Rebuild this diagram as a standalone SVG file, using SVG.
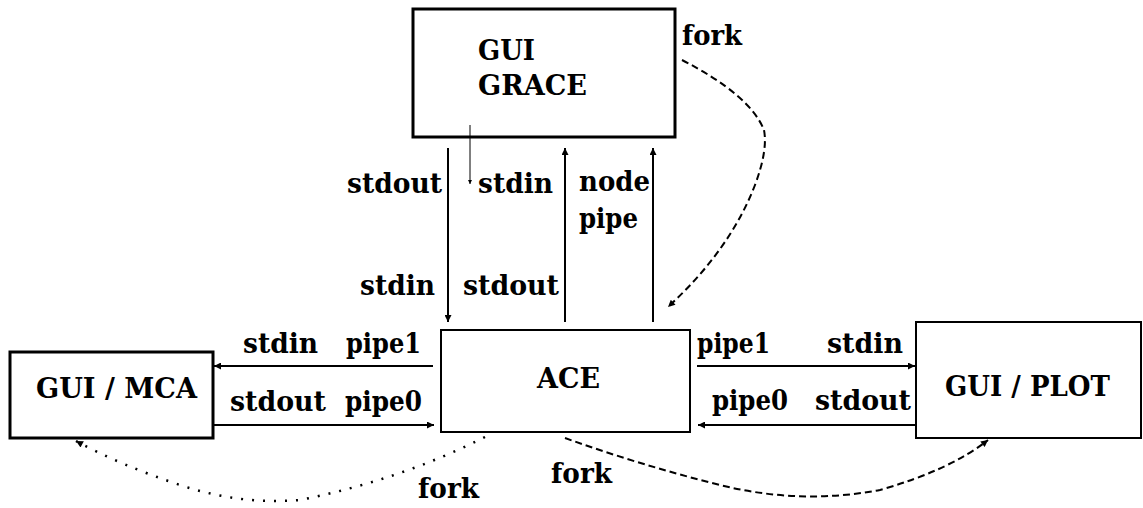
<svg xmlns="http://www.w3.org/2000/svg" width="1143" height="508" viewBox="0 0 1143 508">
  <style>
    .box { fill: #fff; stroke: #000; }
    .lbl { font-family: "DejaVu Serif", "Liberation Serif", serif; font-weight: bold; font-size: 27px; fill: #000; }
    .pipe { fill: none; stroke: #000; stroke-width: 2; }
    .thin { fill: none; stroke: #000; stroke-width: 1; }
    .dash { fill: none; stroke: #000; stroke-width: 2; stroke-dasharray: 7 4; }
    .dot { fill: none; stroke: #000; stroke-width: 2.5; stroke-dasharray: 2 9; stroke-linecap: butt; }
  </style>
  <defs>
    <marker id="ah" viewBox="0 0 10 10" refX="10" refY="5" markerWidth="9" markerHeight="7" markerUnits="userSpaceOnUse" orient="auto">
      <path d="M0,0 L10,5 L0,10 z" fill="#000"/>
    </marker>
    <marker id="ahs" viewBox="0 0 10 10" refX="10" refY="5" markerWidth="5" markerHeight="4" markerUnits="userSpaceOnUse" orient="auto">
      <path d="M0,0 L10,5 L0,10 z" fill="#000"/>
    </marker>
  </defs>
  <rect width="1143" height="508" fill="#fff"/>

  <!-- process boxes -->
  <g id="grace">
    <rect class="box" x="413" y="9" width="262" height="128" stroke-width="3"/>
    <text class="lbl" x="478" y="60" textLength="57" lengthAdjust="spacingAndGlyphs">GUI</text>
    <text class="lbl" x="478" y="95" textLength="109" lengthAdjust="spacingAndGlyphs">GRACE</text>
  </g>
  <g id="ace">
    <rect class="box" x="441" y="330" width="249" height="102" stroke-width="2"/>
    <text class="lbl" x="537" y="388" textLength="63" lengthAdjust="spacingAndGlyphs">ACE</text>
  </g>
  <g id="mca">
    <rect class="box" x="10" y="352" width="203" height="86" stroke-width="3"/>
    <text class="lbl" x="36" y="398" textLength="161" lengthAdjust="spacingAndGlyphs">GUI / MCA</text>
  </g>
  <g id="plot">
    <rect class="box" x="916" y="322" width="225" height="116" stroke-width="2"/>
    <text class="lbl" x="945" y="396" textLength="165" lengthAdjust="spacingAndGlyphs">GUI / PLOT</text>
  </g>

  <!-- connectors -->
  <g id="connectors">
    <line class="thin" x1="470" y1="125" x2="470" y2="184" marker-end="url(#ahs)"/>
    <line class="pipe" x1="448" y1="148" x2="448" y2="322" marker-end="url(#ah)"/>
    <line class="pipe" x1="565" y1="322" x2="565" y2="148" marker-end="url(#ah)"/>
    <line class="pipe" x1="653" y1="322" x2="653" y2="148" marker-end="url(#ah)"/>

    <line class="pipe" x1="433" y1="366" x2="214" y2="366" marker-end="url(#ah)"/>
    <line class="pipe" x1="214" y1="425" x2="434" y2="425" marker-end="url(#ah)"/>
    <line class="pipe" x1="697" y1="366" x2="915" y2="366" marker-end="url(#ah)"/>
    <line class="pipe" x1="915" y1="425" x2="698" y2="425" marker-end="url(#ah)"/>

    <path class="dash" d="M682,60 Q750,95 764,130 Q768,150 755,185 Q730,250 668,307" marker-end="url(#ah)"/>
    <path class="dash" d="M565,438 Q640,465 720,485 Q800,505 880,490 Q950,470 988,440" marker-end="url(#ah)"/>
    <path class="dot" d="M485,437 Q400,480 300,500 Q240,505 180,485 Q120,465 76,441" marker-end="url(#ah)"/>
  </g>

  <!-- channel labels -->
  <g id="labels">
    <text class="lbl" x="682" y="45" textLength="60" lengthAdjust="spacingAndGlyphs">fork</text>
    <text class="lbl" x="347" y="193" textLength="95" lengthAdjust="spacingAndGlyphs">stdout</text>
    <text class="lbl" x="478" y="193" textLength="75" lengthAdjust="spacingAndGlyphs">stdin</text>
    <text class="lbl" x="579" y="191" textLength="71" lengthAdjust="spacingAndGlyphs">node</text>
    <text class="lbl" x="579" y="228" textLength="59" lengthAdjust="spacingAndGlyphs">pipe</text>
    <text class="lbl" x="360" y="295" textLength="75" lengthAdjust="spacingAndGlyphs">stdin</text>
    <text class="lbl" x="463" y="295" textLength="96" lengthAdjust="spacingAndGlyphs">stdout</text>

    <text class="lbl" x="243" y="353" textLength="75" lengthAdjust="spacingAndGlyphs">stdin</text>
    <text class="lbl" x="346" y="353" textLength="75" lengthAdjust="spacingAndGlyphs">pipe1</text>
    <text class="lbl" x="230" y="411" textLength="96" lengthAdjust="spacingAndGlyphs">stdout</text>
    <text class="lbl" x="345" y="411" textLength="77" lengthAdjust="spacingAndGlyphs">pipe0</text>

    <text class="lbl" x="697" y="353" textLength="73" lengthAdjust="spacingAndGlyphs">pipe1</text>
    <text class="lbl" x="827" y="353" textLength="76" lengthAdjust="spacingAndGlyphs">stdin</text>
    <text class="lbl" x="712" y="410" textLength="76" lengthAdjust="spacingAndGlyphs">pipe0</text>
    <text class="lbl" x="815" y="410" textLength="96" lengthAdjust="spacingAndGlyphs">stdout</text>

    <text class="lbl" x="551" y="483" textLength="61" lengthAdjust="spacingAndGlyphs">fork</text>
    <text class="lbl" x="418" y="498" textLength="61" lengthAdjust="spacingAndGlyphs">fork</text>
  </g>
</svg>
